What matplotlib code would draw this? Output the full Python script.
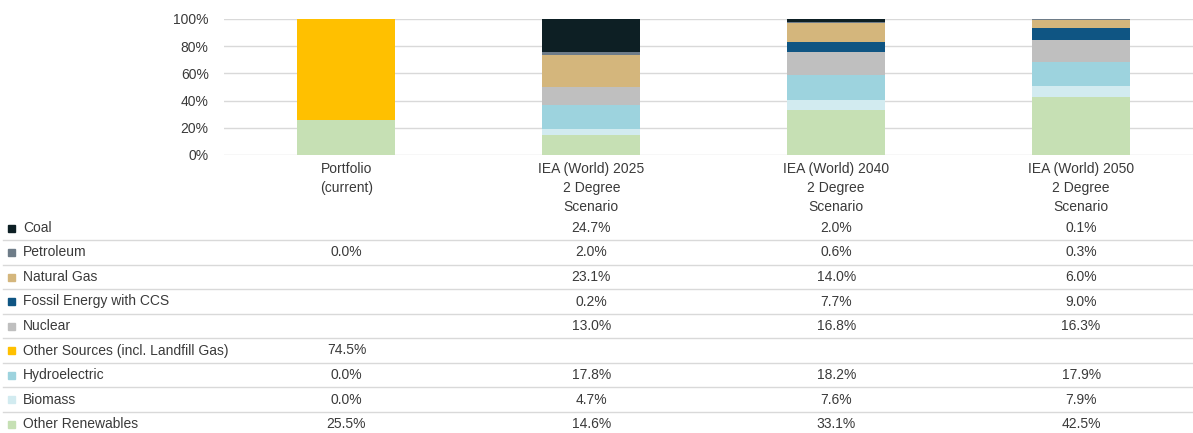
import numpy as np
import matplotlib
matplotlib.use("Agg")
import matplotlib.pyplot as plt
from matplotlib.transforms import blended_transform_factory

plt.rcParams['font.family'] = ['Liberation Sans Narrow', 'Liberation Sans', 'DejaVu Sans']

# Données
categories = ["Portfolio\n(current)",
              "IEA (World) 2025\n2 Degree\nScenario",
              "IEA (World) 2040\n2 Degree\nScenario",
              "IEA (World) 2050\n2 Degree\nScenario"]

# ordre du tableau (haut -> bas) = ordre d'empilement (haut -> bas)
sources = ["Coal", "Petroleum", "Natural Gas", "Fossil Energy with CCS", "Nuclear",
           "Other Sources (incl. Landfill Gas)", "Hydroelectric", "Biomass", "Other Renewables"]

coal        = [None, 24.7, 2.0, 0.1]
petroleum   = [0.0, 2.0, 0.6, 0.3]
natural_gas = [None, 23.1, 14.0, 6.0]
fossil_ccs  = [None, 0.2, 7.7, 9.0]
nuclear     = [None, 13.0, 16.8, 16.3]
other_src   = [74.5, None, None, None]
hydro       = [0.0, 17.8, 18.2, 17.9]
biomass     = [0.0, 4.7, 7.6, 7.9]
other_ren   = [25.5, 14.6, 33.1, 42.5]

series = [coal, petroleum, natural_gas, fossil_ccs, nuclear, other_src, hydro, biomass, other_ren]

colors = ["#0d1f24", "#6e7c88", "#d4b67c", "#0f5583", "#bfbfbf",
          "#ffc000", "#9dd3de", "#d2ebf0", "#c6e0b4"]

W, H = 1193, 433
fig = plt.figure(figsize=(W / 100, H / 100), dpi=100)

def fy(py):
    # pixel (depuis le haut) -> fraction de figure
    return 1 - py / H

ax = fig.add_axes([224 / W, fy(155), (W - 224) / W, (155 - 19) / H])

x = np.arange(len(categories))
bottom = np.zeros(len(categories))
# empilement depuis le bas : Other Renewables en premier
for vals, col in zip(series[::-1], colors[::-1]):
    v = np.array([0.0 if a is None else a for a in vals])
    ax.bar(x, v, bottom=bottom, width=0.40, color=col, zorder=2)
    bottom += v

ax.set_ylim(0, 100)
ax.set_xlim(-0.5, 3.457)
ax.set_yticks([0, 20, 40, 60, 80, 100])
ax.set_yticklabels(["0%", "20%", "40%", "60%", "80%", "100%"])
ax.yaxis.grid(True, color="#d9d9d9", linewidth=1, zorder=0)
ax.set_axisbelow(True)
for s in ax.spines.values():
    s.set_visible(False)
ax.tick_params(axis="y", length=0, pad=11, labelsize=10, labelcolor="#3a3a3a")
ax.set_xticks(x)
ax.set_xticklabels(categories, fontsize=10, color="#3a3a3a", linespacing=1.45)
ax.tick_params(axis="x", length=0, pad=5)

# Tableau sous le graphique
row_y0, row_h = 228, 24.5
tr = blended_transform_factory(ax.transData, fig.transFigure)
for i, (name, vals, col) in enumerate(zip(sources, series, colors)):
    yc = fy(row_y0 + i * row_h)
    fig.patches.append(plt.Rectangle((8 / W, yc - 3.5 / H), 7 / W, 7 / H,
                                     transform=fig.transFigure, color=col))
    fig.text(23 / W, yc, name, fontsize=10, color="#3a3a3a", va="center", ha="left")
    for j, v in enumerate(vals):
        if v is not None:
            fig.text(x[j], yc, f"{v:.1f}%", transform=tr, fontsize=10,
                     color="#3a3a3a", va="center", ha="center")
    if i < len(sources) - 1:
        ly = fy(row_y0 + i * row_h + 12.3)
        fig.add_artist(plt.Line2D([3 / W, 1], [ly, ly], transform=fig.transFigure,
                                  color="#d9d9d9", linewidth=1))

fig.savefig("out.png", dpi=100)
